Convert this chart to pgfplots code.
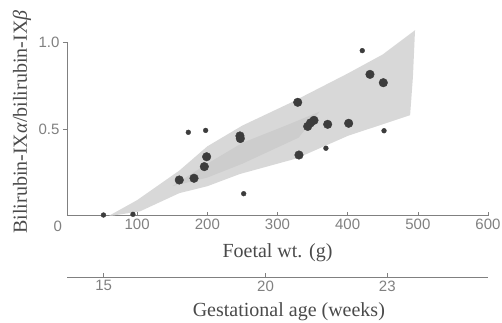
\documentclass[border=0pt]{standalone}
\usepackage{pgfplots}
\pgfplotsset{compat=1.18}
\usepackage{fontspec}
\setmainfont{Liberation Serif}
\newfontfamily\ticksf{Liberation Sans}
\definecolor{txt}{HTML}{4A4A4A}
\definecolor{tck}{HTML}{808080}
\definecolor{dotc}{HTML}{3C3C3C}
\definecolor{band}{HTML}{D8D8D8}
\definecolor{bandin}{HTML}{CDCDCD}
\begin{document}
\begin{tikzpicture}
\path[use as bounding box] (-67pt,-106.3pt) rectangle (435pt,215.7pt);
\begin{axis}[
  at={(0,0)}, anchor=south west,
  scale only axis, width=421pt, height=173.4pt,
  xmin=0, xmax=600, ymin=0, ymax=1,
  axis x line=bottom, axis y line=left,
  axis line style={-, tck, line width=0.6pt},
  xtick={100,200,300,400,500,600},
  xticklabels={100,200,300,400,500,600},
  ytick={0.5,1.0}, yticklabels={0.5,1.0},
  xtick align=inside, ytick align=outside,
  major tick length=4pt,
  tick style={tck, line width=0.6pt},
  ticklabel style={font=\fontsize{15}{15}\ticksf, text=tck},
  xlabel={Foetal wt. (g)},
  xlabel style={font=\fontsize{20}{20}\selectfont, text=txt, at={(axis description cs:0.5,0)}, anchor=center, yshift=-37pt},
  clip=false,
]
% shaded band
\addplot[fill=band, draw=none] coordinates {
  (60,0) (100,0.09) (160,0.26) (200,0.40) (250,0.52) (318,0.65) (400,0.82) (450,0.93) (496,1.07)
  (493,0.80) (489,0.58) (400,0.46) (327,0.33) (246,0.24) (200,0.17) (160,0.13) (104,0.025) (64,0)
} -- cycle;
\addplot[fill=bandin, draw=none] coordinates {
  (150,0.17) (200,0.30) (250,0.42) (318,0.53) (360,0.60) (330,0.45) (250,0.30) (200,0.22)
} -- cycle;
% large dots
\addplot[only marks, mark=*, mark size=4.3pt, mark options={fill=dotc, draw=dotc}] coordinates {
  (160,0.206) (181,0.216) (195.7,0.283) (199,0.34) (246.5,0.46) (247,0.445)
  (328.8,0.654) (330.6,0.35) (343,0.515) (347,0.535) (352,0.55)
  (371.5,0.527) (401.4,0.533) (431.8,0.815) (450.8,0.767)
};
% small dots
\addplot[only marks, mark=*, mark size=2.4pt, mark options={fill=dotc, draw=dotc}] coordinates {
  (172.9,0.481) (197.6,0.492) (251.8,0.127) (420.8,0.952) (369,0.389) (451.8,0.49)
  (52,0.004) (94,0.008)
};
\node[font=\fontsize{15}{15}\ticksf, text=tck, anchor=north, inner sep=0pt] at (axis cs:-13,-0.03) {0};
\node[font=\fontsize{20}{20}\selectfont, text=txt, anchor=center, xshift=-45pt, rotate=90]
  at (axis description cs:0,0.54) {Bilirubin-IX\textit{α}/bilirubin-IX\textit{β}};
\end{axis}
\begin{axis}[
  at={(0,-61.3pt)}, anchor=south west,
  scale only axis, width=421pt, height=10pt,
  xmin=0, xmax=600, ymin=0, ymax=1,
  axis x line=bottom, axis y line=none,
  axis line style={-, tck, line width=0.6pt},
  xtick={52.3,283,456.5}, xticklabels={15,20,23},
  xtick align=inside, major tick length=4pt,
  tick style={tck, line width=0.6pt},
  ticklabel style={font=\fontsize{15}{15}\ticksf, text=tck},
  xlabel={Gestational age (weeks)},
  xlabel style={font=\fontsize{20}{20}\selectfont, text=txt, at={(axis description cs:0.527,0)}, anchor=center, yshift=-35pt},
]
\addplot[draw=none] coordinates {(0,0)};
\end{axis}
\end{tikzpicture}
\end{document}
